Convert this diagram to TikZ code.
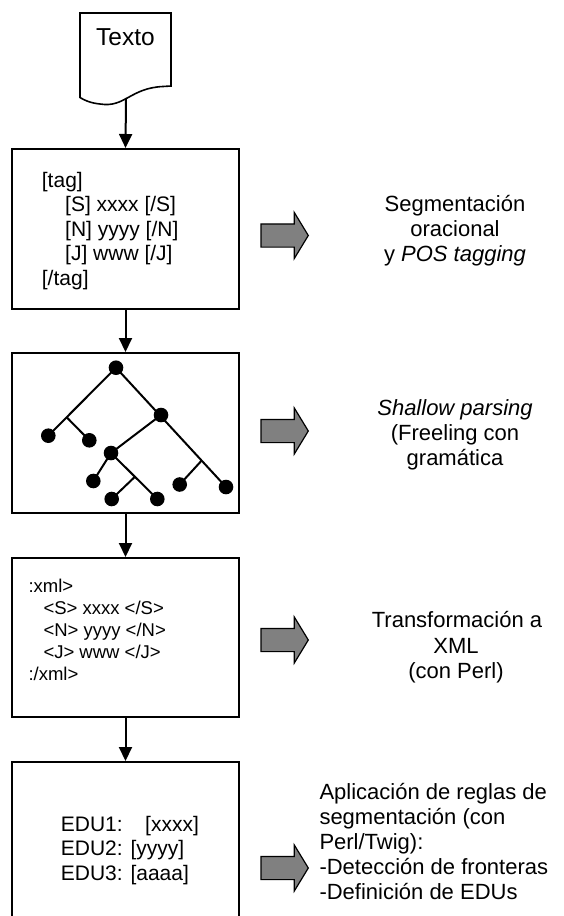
\documentclass[tikz,border=0pt]{standalone}
\usepackage{fontspec}
\setmainfont{Liberation Sans}
\usetikzlibrary{arrows.meta}
\begin{document}
\begin{tikzpicture}[x=1pt,y=-1pt,
  flowbox/.style={draw, line width=2pt, minimum width=227pt, inner sep=0pt},
  conn/.style={line width=2pt, -{Triangle[length=14pt,width=13pt]}},
  limb/.style={line width=2pt},
  dot/.style={circle, fill=black, minimum size=14.6pt, inner sep=0pt},
  txa/.style={font=\fontsize{21}{24}\selectfont, inner sep=0pt, anchor=base west},
  txx/.style={font=\fontsize{18.5}{22}\selectfont, inner sep=0pt, anchor=base west},
  txr/.style={font=\fontsize{22}{25}\selectfont, inner sep=0pt, anchor=base},
  txl/.style={font=\fontsize{22}{25}\selectfont, inner sep=0pt, anchor=base west},
  garrow/.pic={\draw[fill=gray, line width=1.2pt, line join=miter]
     (0,-11.6) -- (33.3,-11.6) -- (33.3,-23) -- (47.3,0) -- (33.3,23) -- (33.3,11.6) -- (0,11.6) -- cycle;}
]
\useasboundingbox (0,0) rectangle (563,916);
\clip (0,0) rectangle (563,916);
\fill[white] (0,0) rectangle (563,916);

% document shape
\draw[line width=1.6pt, line join=miter] (80,13) -- (171,13) -- (171,86) -- (163,86.5)
  .. controls (130,88) and (125,108) .. (100,104)
  .. controls (90,103) and (84,100) .. (80,97.5) -- cycle;
\node[font=\fontsize{24.5}{28}\selectfont, inner sep=0pt, anchor=base] (texto) at (125.5,45) {Texto};
\coordinate (docbot) at (126,98);

% boxes
\node[flowbox, minimum height=160pt] (b1) at (125.5,229) {};
\node[flowbox, minimum height=160pt] (b2) at (125.5,433) {};
\node[flowbox, minimum height=159pt] (b3) at (125.5,637.5) {};
\node[flowbox, minimum height=198pt] (b4) at (125.5,861) {};

% connectors
\draw[conn] (docbot) -- (b1.north);
\draw[conn] (b1.south) -- (b2.north);
\draw[conn] (b2.south) -- (b3.north);
\draw[conn] (b3.south) -- (b4.north);

% box 1 text
\node[txa] (t1a) at (41.7,187) {[tag]};
\node[txa] (t1b) at (65,211.6) {[S] xxxx [/S]};
\node[txa] (t1c) at (65,236.2) {[N] yyyy [/N]};
\node[txa] (t1d) at (65,260.8) {[J] www [/J]};
\node[txa] (t1e) at (41.7,285.4) {[/tag]};

% tree
\coordinate (A) at (116,367.7);
\coordinate (J1) at (66.7,417.3);
\coordinate (L1) at (48.3,435.7);
\coordinate (L2) at (89.3,440.3);
\coordinate (R) at (161,415);
\coordinate (RR) at (226,487);
\coordinate (J2) at (201.7,460.5);
\coordinate (L3) at (179.7,484.5);
\coordinate (M) at (111,453);
\coordinate (L4) at (93.3,481);
\coordinate (J3) at (135,476.7);
\coordinate (L5) at (157.3,499);
\coordinate (L6) at (111.7,499);
\draw[limb] (A) -- (L1);
\draw[limb] (J1) -- (L2);
\draw[limb] (A) -- (RR);
\draw[limb] (J2) -- (L3);
\draw[limb] (R) -- (M) -- (L4);
\draw[limb] (M) -- (L5);
\draw[limb] (J3) -- (L6);
\foreach \p in {A,L1,L2,R,RR,L3,M,L4,L5,L6} \node[dot] (d\p) at (\p) {};

% box 3 text
\node[txx] (t3a) at (28.3,592) {:xml>};
\node[txx] (t3b) at (43.3,614) {<S> xxxx </S>};
\node[txx] (t3c) at (43.3,636) {<N> yyyy </N>};
\node[txx] (t3d) at (43.3,658) {<J> www </J>};
\node[txx] (t3e) at (28.3,680) {:/xml>};

% box 4 text
\node[txa] (t4a) at (60.7,831) {EDU1:\hspace{22.5pt}[xxxx]};
\node[txa] (t4b) at (60.7,855.5) {EDU2: [yyyy]};
\node[txa] (t4c) at (60.7,880) {EDU3: [aaaa]};

% gray arrows
\pic at (261,235.5) {garrow};
\pic at (261,431) {garrow};
\pic at (261,640) {garrow};
\pic at (261,868) {garrow};

% right texts
\node[txr] (r1a) at (455,211) {Segmentación};
\node[txr] (r1b) at (455,236.3) {oracional};
\node[txr] (r1c) at (455,261.6) {y \textit{POS tagging}};
\node[txr] (r2a) at (455,415) {\textit{Shallow parsing}};
\node[txr] (r2b) at (455,440.4) {(Freeling con};
\node[txr] (r2c) at (455,465.8) {gramática};
\node[txr] (r3a) at (457,627.5) {Transformación a};
\node[txr] (r3b) at (456,653) {XML};
\node[txr] (r3c) at (456,678.5) {(con Perl)};
\node[txl] (r4a) at (319.3,799.5) {Aplicación de reglas de};
\node[txl] (r4b) at (319.3,824.5) {segmentación (con};
\node[txl] (r4c) at (319.3,849.5) {Perl/Twig):};
\node[txl] (r4d) at (319.3,874.5) {-Detección de fronteras};
\node[txl] (r4e) at (319.3,899.5) {-Definición de EDUs};
\end{tikzpicture}
\end{document}
